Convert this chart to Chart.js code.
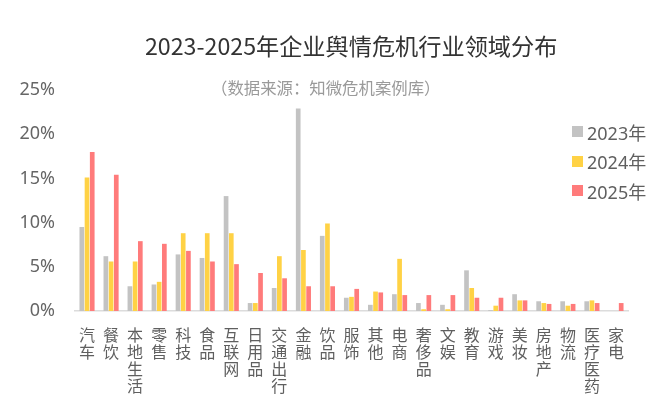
<!DOCTYPE html>
<html>
<head>
<meta charset="utf-8">
<script src="https://cdn.jsdelivr.net/npm/chart.js@4.4.1/dist/chart.umd.min.js"></script>
<style>
  html, body { margin: 0; padding: 0; background: #fff; }
  #wrap { position: relative; width: 665px; height: 414px; font-family: 'Noto Sans', 'Noto Sans CJK SC', sans-serif; }
  #title { position: absolute; left: 145px; top: 29px; width: 420px; font-size: 23.2px; color: #333; white-space: nowrap; line-height: 32px; font-family: 'Noto Sans CJK SC', sans-serif; }
  #subtitle { position: absolute; left: 211px; top: 76px; font-size: 16.4px; color: #9a9a9a; white-space: nowrap; line-height: 22px; font-family: 'Noto Sans CJK SC', sans-serif; }
  #legend { position: absolute; left: 572px; top: 117px; }
  .li { height: 29.5px; display: flex; align-items: center; font-size: 18px; color: #5f5f5f; white-space: nowrap; }
  .sw { width: 11px; height: 11px; margin-right: 4px; display: inline-block; }
  canvas { position: absolute; left: 0; top: 0; }
</style>
</head>
<body>
<div id="wrap">
  <canvas id="c" width="665" height="414"></canvas>
  <div id="title">2023-2025年企业舆情危机行业领域分布</div>
  <div id="subtitle">（数据来源：知微危机案例库）</div>
  <div id="legend"></div>
</div>
<script>
const categories = ['汽车','餐饮','本地生活','零售','科技','食品','互联网','日用品','交通出行','金融','饮品','服饰','其他','电商','奢侈品','文娱','教育','游戏','美妆','房地产','物流','医疗医药','家电'];
const seriesNames = ['2023年','2024年','2025年'];
const values2023 = [9.5, 6.2, 2.8, 3.0, 6.4, 6.0, 13.0, 0.9, 2.6, 22.9, 8.5, 1.5, 0.7, 1.9, 0.9, 0.7, 4.6, 0.1, 1.9, 1.1, 1.1, 1.1, 0];
const values2024 = [15.1, 5.6, 5.6, 3.3, 8.8, 8.8, 8.8, 0.9, 6.2, 6.9, 9.9, 1.6, 2.2, 5.9, 0.2, 0.2, 2.6, 0.6, 1.2, 0.9, 0.6, 1.2, 0];
const values2025 = [18.0, 15.4, 7.9, 7.6, 6.8, 5.6, 5.3, 4.3, 3.7, 2.8, 2.8, 2.5, 2.1, 1.8, 1.8, 1.8, 1.5, 1.5, 1.2, 0.8, 0.8, 0.9, 0.9];
const yTicks = [0, 5, 10, 15, 20, 25];
const colors = ['#c3c3c3', '#ffd245', '#ff7b7b'];

const allValues = [values2023, values2024, values2025];
const datasets = seriesNames.map((n, i) => ({
  label: n,
  data: allValues[i],
  backgroundColor: colors[i],
  borderWidth: 0,
  categoryPercentage: 0.65,
  barPercentage: 0.9
}));

const legend = document.getElementById('legend');
datasets.forEach(d => {
  const row = document.createElement('div');
  row.className = 'li';
  const sw = document.createElement('span');
  sw.className = 'sw';
  sw.style.background = d.backgroundColor;
  row.appendChild(sw);
  row.appendChild(document.createTextNode(d.label));
  legend.appendChild(row);
});

new Chart(document.getElementById('c'), {
  type: 'bar',
  data: {
    labels: categories.map(c => c.split('')),
    datasets
  },
  options: {
    responsive: false,
    animation: false,
    devicePixelRatio: 1,
    layout: { padding: { top: 90, right: 37, bottom: 0, left: 0 } },
    plugins: { legend: { display: false }, tooltip: { enabled: false } },
    scales: {
      x: {
        grid: { display: false },
        border: { display: true, color: '#dcdcdc', width: 1.5 },
        ticks: {
          autoSkip: false, maxRotation: 0, minRotation: 0, padding: 8,
          color: '#5f5f5f',
          font: { family: "'Noto Sans CJK SC', sans-serif", size: 16, lineHeight: 1.05 }
        },
        afterFit: s => { s.height = 103; }
      },
      y: {
        min: 0, max: 25,
        afterBuildTicks: s => { s.ticks = yTicks.map(v => ({ value: v })); },
        grid: { display: false },
        border: { display: false },
        ticks: {
          padding: 12, color: '#666',
          font: { family: "'Noto Sans', sans-serif", size: 18 },
          callback: v => v + '%'
        },
        afterFit: s => { s.width = 75; }
      }
    }
  }
});
</script>
</body>
</html>
